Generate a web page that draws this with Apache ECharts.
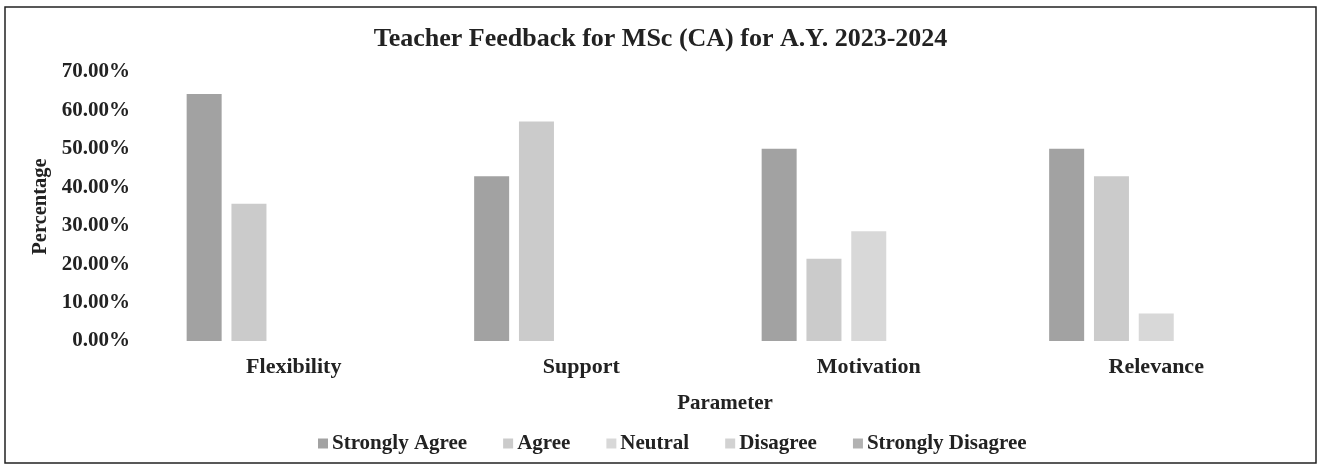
<!DOCTYPE html>
<html>
<head>
<meta charset="utf-8">
<script src="https://cdn.jsdelivr.net/npm/echarts@6/dist/echarts.min.js"></script>
<style>
  html, body { margin: 0; padding: 0; background: #fff; }
  #chart { width: 1321px; height: 466px; }
</style>
</head>
<body>
<div id="chart"></div>
<script>
// categories and values (fractions)
const parameters = ['Flexibility', 'Support', 'Motivation', 'Relevance']
const seriesNames = ['Strongly Agree', 'Agree', 'Neutral', 'Disagree', 'Strongly Disagree']
const stronglyAgree = [0.6429, 0.4286, 0.5, 0.5]
const agree = [0.3571, 0.5714, 0.2143, 0.4286]
const neutral = [0, 0, 0.2857, 0.0714]
const disagree = [0, 0, 0, 0]
const stronglyDisagree = [0, 0, 0, 0]

const colors = ['#a2a2a2', '#cbcbcb', '#d8d8d8', '#d2d2d2', '#b2b2b2']
const font = 'Liberation Serif'
const ink = '#222'

const chart = echarts.init(document.getElementById('chart'))
const values = [stronglyAgree, agree, neutral, disagree, stronglyDisagree]

chart.setOption({
  animation: false,
  textStyle: { fontFamily: font, color: ink },
  title: {
    text: 'Teacher Feedback for MSc (CA) for A.Y. 2023-2024',
    left: 'center',
    top: 21,
    textStyle: { fontFamily: font, fontSize: 26, fontWeight: 'bold', color: ink }
  },
  legend: {
    data: seriesNames,
    left: 313,
    top: 428,
    itemWidth: 10,
    itemHeight: 10,
    itemGap: 36,
    icon: 'rect',
    textStyle: { fontFamily: font, fontSize: 21, fontWeight: 'bold', color: ink, padding: [0, 0, 0, -1] }
  },
  grid: { left: 150, right: 21, top: 72, bottom: 125 },
  xAxis: {
    type: 'category',
    data: parameters,
    name: 'Parameter',
    nameLocation: 'middle',
    nameGap: 52,
    nameTextStyle: { fontFamily: font, fontSize: 21, fontWeight: 'bold', color: ink },
    axisLine: { show: false },
    axisTick: { show: false },
    axisLabel: { margin: 15, fontFamily: font, fontSize: 22, fontWeight: 'bold', color: ink }
  },
  yAxis: {
    type: 'value',
    min: 0,
    max: 0.7,
    interval: 0.1,
    name: 'Percentage',
    nameLocation: 'middle',
    nameGap: 98,
    nameTextStyle: { fontFamily: font, fontSize: 20.5, fontWeight: 'bold', color: ink },
    splitLine: { show: false },
    axisLine: { show: false },
    axisTick: { show: false },
    axisLabel: {
      margin: 20,
      fontFamily: font,
      fontSize: 21,
      fontWeight: 'bold',
      color: ink,
      formatter: v => (v * 100).toFixed(2) + '%'
    }
  },
  graphic: [{
    type: 'rect',
    shape: { x: 5, y: 7, width: 1311, height: 456 },
    style: { fill: 'none', stroke: '#222', lineWidth: 1.5 },
    silent: true
  }],
  series: seriesNames.map((name, i) => ({
    name: name,
    type: 'bar',
    data: values[i],
    barWidth: 35,
    barGap: '28%',
    itemStyle: { color: colors[i], borderWidth: 0 }
  }))
})
</script>
</body>
</html>
